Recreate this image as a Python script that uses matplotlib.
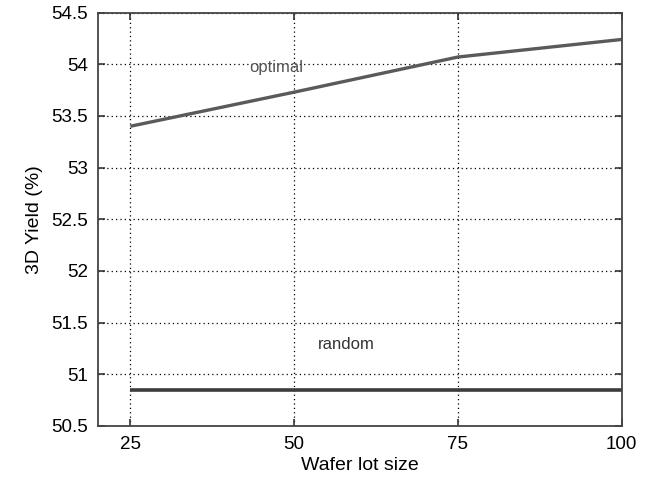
import matplotlib
matplotlib.use("Agg")
import matplotlib.pyplot as plt

# dados
lot_size = [25, 50, 75, 100]
yield_optimal = [53.40, 53.73, 54.07, 54.24]
yield_random = [50.85, 50.85, 50.85, 50.85]
yticks = [50.5, 51, 51.5, 52, 52.5, 53, 53.5, 54, 54.5]
ytick_labels = ["50.5", "51", "51.5", "52", "52.5", "53", "53.5", "54", "54.5"]

plt.rcParams['font.family'] = ['Liberation Sans', 'DejaVu Sans']

fig = plt.figure(figsize=(6.51, 4.84), dpi=100)
ax = fig.add_axes([0.15, 0.12, 0.805, 0.854])

ax.plot(lot_size, yield_optimal, color="#5a5a5a", lw=2.4, solid_capstyle="butt")
ax.plot(lot_size, yield_random, color="#3c3c3c", lw=2.6, solid_capstyle="butt")

ax.text(47.2, 53.97, "optimal", fontsize=12, color="#555555", ha="center", va="center")
ax.text(58.0, 51.29, "random", fontsize=12, color="#333333", ha="center", va="center")

ax.set_xlim(20, 100)
ax.set_ylim(50.5, 54.5)
ax.set_xticks(lot_size)
ax.set_xticklabels([str(v) for v in lot_size])
ax.set_yticks(yticks)
ax.set_yticklabels(ytick_labels)
ax.grid(True, linestyle=(0, (1, 2.5)), color="black", lw=0.9)
ax.tick_params(direction="in", top=True, right=True, length=5, width=1.2,
               labelsize=13.5, color="#333333", pad=7)
for s in ax.spines.values():
    s.set_color("#444444")
    s.set_linewidth(1.3)

ax.set_xlabel("Wafer lot size", fontsize=14, labelpad=3)
ax.set_ylabel("3D Yield (%)", fontsize=14, labelpad=6)

fig.savefig("out.png", dpi=100)
